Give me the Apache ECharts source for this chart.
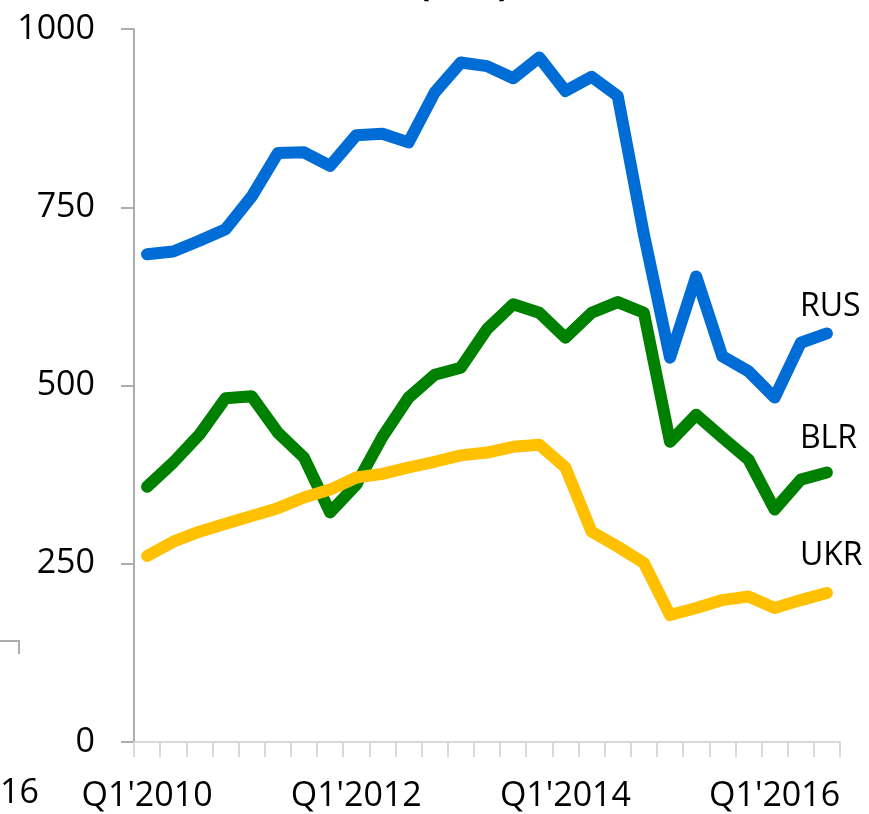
<!DOCTYPE html>
<html>
<head>
<meta charset="utf-8">
<script src="https://cdn.jsdelivr.net/npm/echarts@6/dist/echarts.min.js"></script>
<style>
  html, body { margin: 0; padding: 0; background: #fff; }
  #chart { width: 869px; height: 814px; }
</style>
</head>
<body>
<div id="chart"></div>
<script>
// quarters Q1'2010 .. Q3'2016
const quarters = [
  "Q1'2010", "Q2'2010", "Q3'2010", "Q4'2010",
  "Q1'2011", "Q2'2011", "Q3'2011", "Q4'2011",
  "Q1'2012", "Q2'2012", "Q3'2012", "Q4'2012",
  "Q1'2013", "Q2'2013", "Q3'2013", "Q4'2013",
  "Q1'2014", "Q2'2014", "Q3'2014", "Q4'2014",
  "Q1'2015", "Q2'2015", "Q3'2015", "Q4'2015",
  "Q1'2016", "Q2'2016", "Q3'2016"
]
const yTicks = [0, 250, 500, 750, 1000]

// average wage, US$
const rus = [684, 688, 703, 719, 765, 826, 827, 808, 851, 853, 841, 911, 953, 948,
  931, 960, 913, 933, 906, 712, 539, 653, 541, 520, 483, 560, 573]
const blr = [358, 392, 431, 482, 485, 434, 399, 322, 361, 428, 483, 515, 525, 579,
  614, 602, 567, 602, 617, 602, 421, 459, 427, 396, 326, 368, 378]
const ukr = [261, 281, 295, 306, 317, 328, 343, 354, 371, 376, 385, 393, 402, 406,
  414, 417, 385, 295, 274, 251, 178, 188, 199, 204, 188, 199, 209]

const FONT = "'Open Sans', 'Noto Sans', sans-serif"

function lineSeries(name, data, color, offset) {
  return {
    name: name,
    type: 'line',
    data: data,
    symbol: 'none',
    lineStyle: { color: color, width: 12, cap: 'round', join: 'round' },
    endLabel: {
      show: true,
      formatter: '{a}',
      color: '#000',
      fontFamily: FONT,
      fontSize: 32,
      offset: offset
    }
  }
}

const chart = echarts.init(document.getElementById('chart'))
chart.setOption({
  animation: false,
  textStyle: { fontFamily: FONT },
  grid: { left: 134, right: 29, top: 29, bottom: 72 },
  xAxis: {
    type: 'category',
    data: quarters,
    boundaryGap: true,
    axisLine: { lineStyle: { color: '#D9D9D9', width: 2 } },
    axisTick: { show: true, interval: 0, length: 15, lineStyle: { color: '#D9D9D9', width: 2 } },
    axisLabel: { interval: 7, color: '#000', fontSize: 34, margin: 37, fontFamily: FONT }
  },
  yAxis: {
    type: 'value',
    min: yTicks[0],
    max: yTicks[yTicks.length - 1],
    interval: yTicks[1] - yTicks[0],
    splitLine: { show: false },
    axisLine: { show: true, lineStyle: { color: '#ADADAD', width: 2 } },
    axisTick: { show: true, length: 13, lineStyle: { color: '#ADADAD', width: 2 } },
    axisLabel: { color: '#000', fontSize: 34, margin: 39, fontFamily: FONT,
      formatter: function (v) { return String(v) } }
  },
  series: [
    lineSeries('RUS', rus, '#006CD6', [-35, -27]),
    lineSeries('BLR', blr, '#008000', [-35, -34]),
    lineSeries('UKR', ukr, '#FFC000', [-35, -37])
  ],
  graphic: [
    // remnants of the neighbouring chart, cut by the frame
    { type: 'text', left: 464 - 46, top: -32,
      style: { text: '(US$)', font: 'bold 36px ' + FONT, fill: '#000' } },
    { type: 'text', left: 0, top: 776,
      style: { text: '16', font: '34px ' + FONT, fill: '#000' } },
    { type: 'polyline', shape: { points: [[0, 641], [19, 641], [19, 654]] },
      style: { stroke: '#ADADAD', lineWidth: 2, fill: null } }
  ]
})
</script>
</body>
</html>
